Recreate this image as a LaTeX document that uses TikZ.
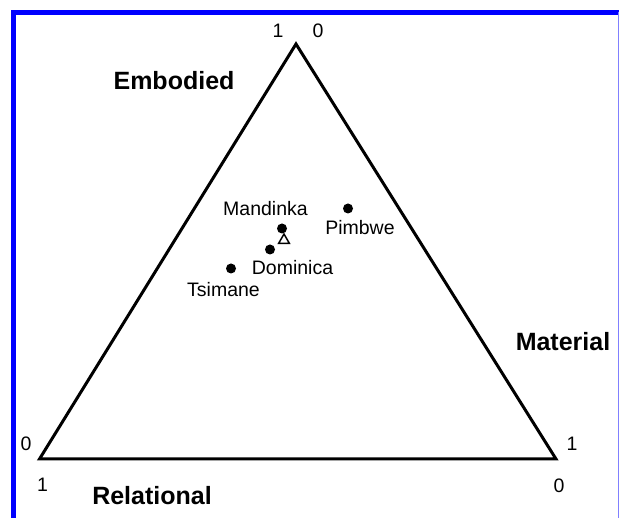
\documentclass[tikz,border=0pt]{standalone}
\usepackage{fontspec}
\setmainfont{Liberation Sans}
\usetikzlibrary{shapes.geometric}
\tikzset{
  dot/.style={circle,fill=black,inner sep=0pt,minimum size=10pt},
  mean/.style={regular polygon,regular polygon sides=3,draw,line width=1.5pt,inner sep=0pt,minimum size=12.5pt,fill=white},
  tick/.style={font=\fontsize{19.5}{19.5}\selectfont,inner sep=0pt},
  axisname/.style={font=\fontsize{25}{25}\selectfont\bfseries,inner sep=0pt},
  site/.style={font=\fontsize{19.5}{19.5}\selectfont,inner sep=0pt}
}
\begin{document}
\begin{tikzpicture}[x=1pt,y=-1pt]
    \useasboundingbox (0,0) rectangle (619,518);
    \fill[white] (0,0) rectangle (619,518);
    % frame
    \draw[blue,line width=5pt] (13,518) -- (13,12.3) -- (619,12.3);
    \draw[blue!50,line width=1pt] (618,12) -- (618,518);
    % ternary triangle
    \coordinate (top) at (296,44);
    \coordinate (left) at (39.5,459);
    \coordinate (right) at (556,459);
    \draw[line width=3pt,line join=miter] (left) -- (right) -- (top) -- cycle;
    % corner values
    \node[tick] (top1) at (278,31) {1};
    \node[tick] (top0) at (318,31) {0};
    \node[tick] (left0) at (26,444) {0};
    \node[tick] (left1) at (42.5,485) {1};
    \node[tick] (right1) at (572,444) {1};
    \node[tick] (right0) at (559,486) {0};
    % axis names
    \node[axisname] (embodied) at (174,81) {Embodied};
    \node[axisname] (material) at (563,341.5) {Material};
    \node[axisname] (relational) at (152,496) {Relational};
    % sites
    \node[mean] (avg) at (284,240.3) {};
    \foreach \n/\x/\y/\lx/\ly/\t in {mandinka/282/228.5/265.5/208.5/Mandinka,
        pimbwe/348/208.5/360/227.5/Pimbwe,
        dominica/270/249.5/292.5/267.5/Dominica,
        tsimane/231/268.5/223.5/290/Tsimane}
    {
      \node[dot] (\n) at (\x,\y) {};
      \node[site] (\n-l) at (\lx,\ly) {\t};
    }
\end{tikzpicture}
\end{document}
